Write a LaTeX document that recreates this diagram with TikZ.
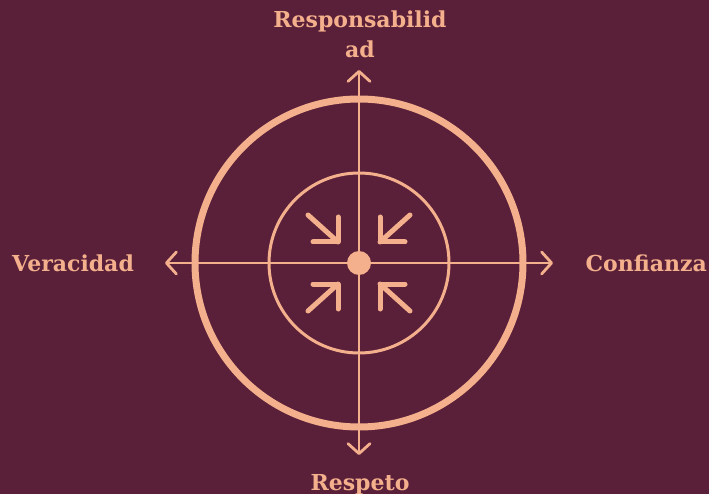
\documentclass[tikz,border=0pt]{standalone}
\usepackage{fontspec}
\setmainfont{DejaVu Serif}
\usepackage{xcolor}
\usetikzlibrary{arrows.meta,positioning,calc}

\definecolor{wine}{HTML}{5A2039}
\definecolor{peach}{HTML}{F4B08C}

\begin{document}
\begin{tikzpicture}[x=1pt,y=-1pt,
    axis/.style={peach,line width=2.8pt,-{Straight Barb[length=10pt,width=22pt,round]}},
    inward/.style={peach,line width=5pt,line cap=round,line join=round},
    label/.style={text=peach,font=\bfseries\fontsize{22}{30}\selectfont,inner sep=0pt,align=center}]
    % Background
    \fill[wine] (0,0) rectangle (709,494);
    \useasboundingbox (0,0) rectangle (709,494);

    % Circles
    \draw[peach,line width=7pt] (359,263) circle (164);
    \draw[peach,line width=3pt] (359,263) circle (90);

    % Axis ends
    \node[circle,fill=peach,minimum size=24pt,inner sep=0pt] (c) at (359,263) {};
    \coordinate (top) at (359,70);
    \coordinate (bottom) at (359,455);
    \coordinate (left) at (165,263);
    \coordinate (right) at (553,263);

    % Draw axes
    \foreach \e in {top,bottom,left,right} {
        \draw[axis] (c.center) -- (\e);
    }

    % Arrows pointing to the middle
    \foreach \sx/\sy in {-1/-1,1/-1,-1/1,1/1} {
        \coordinate (tip) at ($(c)+(\sx*21,\sy*21)$);
        \draw[inward] ($(c)+(\sx*51,\sy*48)$) -- (tip);
        \draw[inward] ($(tip)+(\sx*25,0)$) -- (tip) -- ($(tip)+(0,\sy*25)$);
    }

    % Labels
    \node[label,anchor=north] (resp) at (360,11) {Responsabilid\\ad};
    \node[label,anchor=base west] (ver) at (12,272) {Veracidad};
    \node[label,anchor=base east] (conf) at (707,272) {Confianza};
    \node[label,anchor=base] (res) at (360,490) {Respeto};
\end{tikzpicture}
\end{document}
